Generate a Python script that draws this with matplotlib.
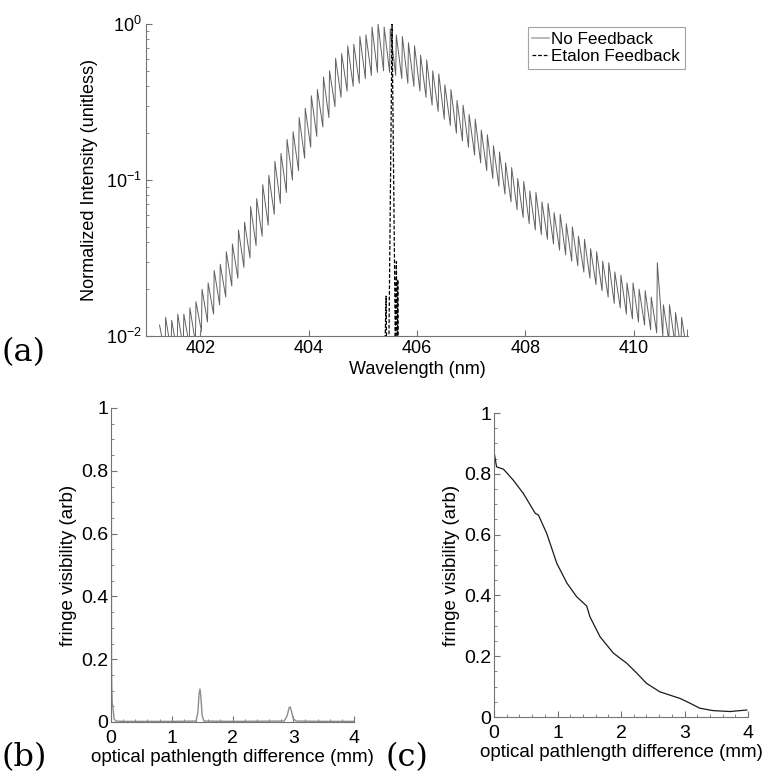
import numpy as np
import matplotlib
matplotlib.use("Agg")
import matplotlib.pyplot as plt
from matplotlib.lines import Line2D
from matplotlib.ticker import MultipleLocator, LogLocator, NullFormatter, FixedLocator, FuncFormatter

# ---------------- data ----------------
# (a) spectrum: longitudinal modes, start and spacing (nm)
mode_start_nm = 401.25
mode_spacing_nm = 0.112
# log10 of peak / trough intensity for each mode (No Feedback)
peak_log = [
    -1.93, -1.88, -1.90, -1.86, -1.86, -1.82,
    -1.78, -1.70, -1.66, -1.58, -1.54, -1.46,
    -1.41, -1.32, -1.27, -1.17, -1.12, -1.03,
    -0.97, -0.88, -0.83, -0.74, -0.69, -0.60,
    -0.54, -0.46, -0.42, -0.34, -0.30, -0.22,
    -0.19, -0.14, -0.13, -0.08, -0.07, -0.02,
    0.00, -0.02, -0.03, -0.07, -0.08, -0.12,
    -0.14, -0.20, -0.23, -0.30, -0.32, -0.39,
    -0.42, -0.49, -0.52, -0.58, -0.61, -0.68,
    -0.71, -0.78, -0.82, -0.89, -0.92, -0.99,
    -1.01, -1.07, -1.08, -1.14, -1.15, -1.21,
    -1.22, -1.28, -1.30, -1.36, -1.38, -1.44,
    -1.46, -1.52, -1.53, -1.59, -1.61, -1.66,
    -1.66, -1.70, -1.71, -1.75, -1.53, -1.80,
    -1.80, -1.85, -1.88, -1.96]
trough_log = [
    -2.12, -2.10, -2.10, -2.08, -2.06, -2.04,
    -1.97, -1.91, -1.86, -1.80, -1.75, -1.68,
    -1.63, -1.56, -1.50, -1.42, -1.36, -1.29,
    -1.22, -1.15, -1.08, -1.00, -0.94, -0.86,
    -0.79, -0.72, -0.66, -0.60, -0.53, -0.47,
    -0.43, -0.40, -0.38, -0.35, -0.33, -0.31,
    -0.30, -0.31, -0.33, -0.35, -0.38, -0.40,
    -0.43, -0.47, -0.52, -0.56, -0.61, -0.65,
    -0.70, -0.75, -0.79, -0.84, -0.89, -0.94,
    -0.99, -1.04, -1.09, -1.14, -1.19, -1.24,
    -1.28, -1.32, -1.35, -1.38, -1.41, -1.45,
    -1.48, -1.52, -1.55, -1.59, -1.63, -1.67,
    -1.71, -1.75, -1.79, -1.82, -1.86, -1.89,
    -1.91, -1.93, -1.96, -1.98, -2.00, -2.03,
    -2.05, -2.08, -2.11, -2.15]

# Etalon Feedback spectrum
etalon_nm = [405.38, 405.43, 405.45, 405.48, 405.54, 405.60, 405.62, 405.635, 405.645, 405.66]
etalon_int = [0.003, 0.018, 0.003, 0.008, 1.0, 0.009, 0.03, 0.004, 0.023, 0.003]

# (b) fringe visibility, no feedback
opd_b = [0.006, 0.008, 0.012, 0.02, 0.03, 0.05, 0.08, 0.2, 1.0, 1.40, 1.43, 1.45, 1.465, 1.48,
         1.50, 1.53, 2.0, 2.85, 2.90, 2.93, 2.95, 2.97, 3.00, 3.05, 3.5, 4.0]
vis_b = [0.72, 0.23, 0.12, 0.06, 0.05, 0.01, 0.003, 0.002, 0.002, 0.003, 0.03, 0.09, 0.105,
         0.08, 0.02, 0.003, 0.002, 0.003, 0.02, 0.045, 0.048, 0.035, 0.01, 0.003, 0.002, 0.002]

# (c) fringe visibility, etalon feedback
opd_c = [0.0, 0.04, 0.15, 0.30, 0.46, 0.65, 0.70, 0.83, 0.99, 1.15, 1.30, 1.46, 1.51, 1.67,
         1.88, 2.09, 2.25, 2.40, 2.61, 2.77, 2.93, 3.09, 3.24, 3.45, 3.72, 3.98]
vis_c = [0.873, 0.823, 0.815, 0.78, 0.736, 0.67, 0.664, 0.604, 0.505, 0.44, 0.396, 0.365,
         0.33, 0.264, 0.21, 0.177, 0.144, 0.111, 0.083, 0.072, 0.061, 0.045, 0.029, 0.021,
         0.018, 0.023]

# ---------------- figure ----------------
plt.rcParams['font.family'] = ['Liberation Sans', 'DejaVu Sans']
plt.rcParams['mathtext.fontset'] = 'custom'
plt.rcParams['mathtext.rm'] = 'Liberation Sans'
plt.rcParams['mathtext.it'] = 'Liberation Sans'

W, H = 767, 776
fig = plt.figure(figsize=(W / 100, H / 100), dpi=100)

def px_axes(x0, y0, x1, y1):
    return fig.add_axes([x0 / W, 1 - y1 / H, (x1 - x0) / W, (y1 - y0) / H])

SP = '0.45'

def style(ax, fs):
    for s in ['top', 'right']:
        ax.spines[s].set_visible(False)
    for s in ['left', 'bottom']:
        ax.spines[s].set_color(SP)
        ax.spines[s].set_linewidth(0.8)
    ax.tick_params(which='both', direction='in', color=SP, labelsize=fs, pad=3)
    ax.tick_params(which='major', length=4)
    ax.tick_params(which='minor', length=2)

fmt = FuncFormatter(lambda v, p: '%g' % round(v, 3))

# (a)
axa = px_axes(146, 24, 688, 336)
style(axa, 13)
peaks = 10.0 ** np.array(peak_log)
troughs = 10.0 ** np.array(trough_log)
modes = mode_start_nm + mode_spacing_nm * np.arange(len(peaks))
xs = np.empty(2 * len(peaks))
ys = np.empty(2 * len(peaks))
xs[0::2] = modes
xs[1::2] = modes + 0.9 * mode_spacing_nm
ys[0::2] = peaks
ys[1::2] = troughs
axa.plot(xs, ys, color='0.38', lw=0.7)
axa.plot(etalon_nm, etalon_int, color='black', lw=0.9, ls=(0, (3, 1.5)))
axa.set_yscale('log')
axa.set_xlim(401, 411)
axa.set_ylim(1e-2, 1)
axa.xaxis.set_major_locator(FixedLocator([402, 404, 406, 408, 410]))
axa.yaxis.set_minor_locator(LogLocator(base=10, subs=np.arange(2, 10)))
axa.yaxis.set_minor_formatter(NullFormatter())
axa.set_xlabel('Wavelength (nm)', fontsize=13, labelpad=3)
axa.set_ylabel('Normalized Intensity (unitless)', fontsize=13, labelpad=6)
handles = [Line2D([], [], color='0.68', lw=1.2),
           Line2D([], [], color='black', lw=0.9, ls=(0, (3, 1.5)))]
leg = axa.legend(handles, ['No Feedback', 'Etalon Feedback'], loc='upper right',
                 fontsize=12.3, frameon=True, fancybox=False,
                 handlelength=1.0, handletextpad=0.15, borderpad=0.25,
                 labelspacing=0.15, borderaxespad=0.2)
leg.get_frame().set_edgecolor('0.55')
leg.get_frame().set_linewidth(0.8)

# (b), (c)
def lower(ax, x, y, color, lw):
    style(ax, 14)
    ax.plot(x, y, color=color, lw=lw)
    ax.set_xlim(0, 4)
    ax.set_ylim(0, 1)
    ax.xaxis.set_major_locator(MultipleLocator(1))
    ax.xaxis.set_minor_locator(MultipleLocator(0.2))
    ax.yaxis.set_major_locator(MultipleLocator(0.2))
    ax.yaxis.set_minor_locator(MultipleLocator(0.05))
    ax.yaxis.set_major_formatter(fmt)
    ax.xaxis.set_major_formatter(fmt)
    ax.tick_params(axis='x', pad=6)
    ax.tick_params(axis='y', pad=2)
    ax.set_xlabel('optical pathlength difference (mm)', fontsize=13.5, labelpad=1)
    ax.set_ylabel('fringe visibility (arb)', fontsize=13.5, labelpad=3)

axb = px_axes(111, 408, 354, 722)
lower(axb, opd_b, vis_b, '0.55', 1.0)
axc = px_axes(494, 413, 748, 717)
lower(axc, opd_c, vis_c, '0.1', 0.9)

# panel letters
for txt, x, y in [('(a)', 1, 353), ('(b)', 1, 758), ('(c)', 385, 758)]:
    fig.text(x / W, 1 - y / H, txt, fontsize=23, family='DejaVu Serif',
             ha='left', va='center')

fig.savefig('out.png', dpi=100)
